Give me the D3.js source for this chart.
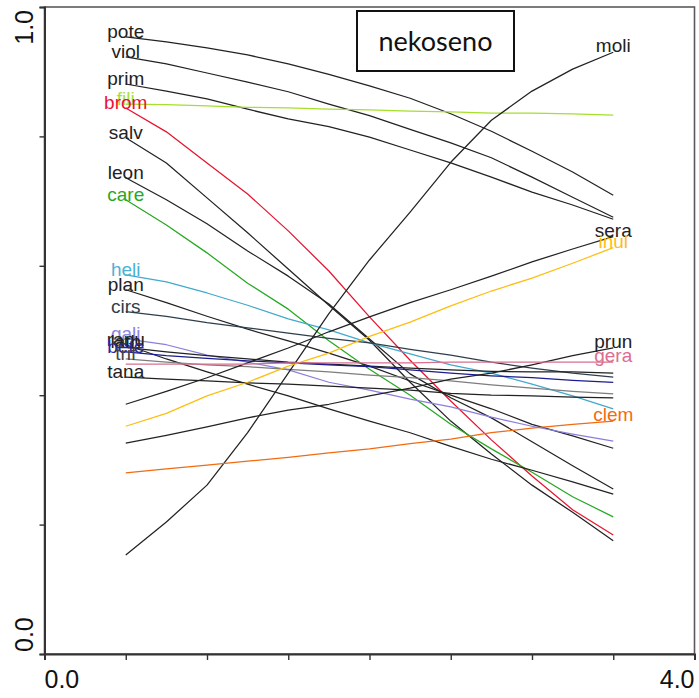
<!DOCTYPE html>
<html>
<head>
<meta charset="utf-8">
<script src="https://cdn.jsdelivr.net/npm/d3@7"></script>
<style>
  html, body { margin: 0; padding: 0; background: #fff; }
  svg { display: block; }
</style>
</head>
<body>
<svg id="chart" width="699" height="698"></svg>
<script>
// Sample positions along the gradient axis
const steps = [0.5, 0.75, 1.0, 1.25, 1.5, 1.75, 2.0, 2.25, 2.5, 2.75, 3.0, 3.25, 3.5];

// Fitted response of each species
const pote = [0.954, 0.946, 0.937, 0.926, 0.912, 0.896, 0.878, 0.859, 0.835, 0.808, 0.777, 0.745, 0.709];
const viol = [0.923, 0.912, 0.898, 0.884, 0.869, 0.850, 0.832, 0.811, 0.790, 0.767, 0.737, 0.706, 0.675];
const prim = [0.881, 0.870, 0.858, 0.842, 0.827, 0.815, 0.799, 0.779, 0.759, 0.737, 0.714, 0.694, 0.672];
const fili = [0.850, 0.849, 0.847, 0.845, 0.844, 0.842, 0.841, 0.839, 0.838, 0.836, 0.836, 0.835, 0.833];
const brom = [0.844, 0.807, 0.759, 0.711, 0.654, 0.592, 0.521, 0.454, 0.391, 0.331, 0.275, 0.223, 0.184];
const salv = [0.798, 0.759, 0.705, 0.651, 0.595, 0.539, 0.485, 0.420, 0.360, 0.309, 0.261, 0.219, 0.175];
const leon = [0.736, 0.702, 0.665, 0.623, 0.584, 0.541, 0.487, 0.433, 0.396, 0.365, 0.328, 0.291, 0.255];
const care = [0.702, 0.663, 0.620, 0.573, 0.533, 0.484, 0.440, 0.400, 0.355, 0.317, 0.281, 0.243, 0.212];
const heli = [0.586, 0.575, 0.558, 0.539, 0.518, 0.501, 0.481, 0.464, 0.447, 0.434, 0.417, 0.399, 0.379];
const plan = [0.563, 0.543, 0.522, 0.502, 0.484, 0.465, 0.445, 0.422, 0.400, 0.379, 0.355, 0.337, 0.318];
const cirs = [0.529, 0.522, 0.512, 0.504, 0.496, 0.488, 0.481, 0.471, 0.462, 0.451, 0.442, 0.434, 0.428];
const gali = [0.487, 0.478, 0.462, 0.451, 0.439, 0.420, 0.408, 0.394, 0.382, 0.366, 0.352, 0.340, 0.329];
const ranu = [0.478, 0.456, 0.436, 0.417, 0.399, 0.379, 0.360, 0.342, 0.321, 0.301, 0.284, 0.266, 0.247];
const lath = [0.474, 0.467, 0.461, 0.456, 0.451, 0.448, 0.445, 0.442, 0.439, 0.437, 0.436, 0.436, 0.434];
const bete = [0.467, 0.461, 0.457, 0.453, 0.450, 0.447, 0.444, 0.439, 0.434, 0.430, 0.427, 0.423, 0.420];
const trif = [0.456, 0.451, 0.447, 0.444, 0.440, 0.436, 0.431, 0.427, 0.422, 0.416, 0.411, 0.406, 0.402];
const tana = [0.428, 0.425, 0.422, 0.419, 0.417, 0.414, 0.411, 0.408, 0.403, 0.400, 0.399, 0.397, 0.396];
const moli = [0.153, 0.204, 0.261, 0.342, 0.434, 0.526, 0.609, 0.683, 0.760, 0.825, 0.870, 0.904, 0.930];
const sera = [0.386, 0.406, 0.427, 0.450, 0.473, 0.498, 0.521, 0.543, 0.563, 0.584, 0.606, 0.626, 0.645];
const inul = [0.352, 0.372, 0.399, 0.420, 0.445, 0.465, 0.491, 0.513, 0.538, 0.561, 0.581, 0.604, 0.628];
const prun = [0.326, 0.338, 0.351, 0.365, 0.377, 0.386, 0.399, 0.411, 0.425, 0.434, 0.447, 0.461, 0.473];
const gera = [0.448, 0.448, 0.448, 0.448, 0.450, 0.450, 0.450, 0.450, 0.451, 0.451, 0.451, 0.451, 0.451];
const clem = [0.280, 0.286, 0.292, 0.298, 0.304, 0.311, 0.317, 0.325, 0.332, 0.342, 0.349, 0.355, 0.360];

// Species labelled where they start (declining) and where they end (increasing)
const labelAtStart = ["pote", "viol", "prim", "fili", "brom", "salv", "leon", "care", "heli", "plan",
                      "cirs", "gali", "ranu", "lath", "bete", "trif", "tana"];
const labelAtEnd = ["moli", "sera", "inul", "prun", "gera", "clem"];

const xTicks = [0, 0.5, 1, 1.5, 2, 2.5, 3, 3.5, 4];
const yTicks = [0, 0.2, 0.4, 0.6, 0.8, 1.0];
const xTickLabels = ["0.0", "4.0"];
const yTickLabels = ["0.0", "1.0"];
const panelTitle = "nekoseno";

const responses = { pote, viol, prim, fili, brom, salv, leon, care, heli, plan, cirs, gali,
                    ranu, lath, bete, trif, tana, moli, sera, inul, prun, gera, clem };

const ink = "#222222";
const lineColor = {
  fili: "#a6df2c", brom: "#e8132f", care: "#27a822", heli: "#41a9cc",
  cirs: "#2e3e4c", gali: "#8a7fdc", bete: "#1c1c8e", trif: "#7d7d7d",
  inul: "#ffbd10", gera: "#d8708e", clem: "#f26a12"
};
const labelColor = {
  fili: "#a8e03a", brom: "#ec1038", care: "#27a822", heli: "#4ab2d4",
  cirs: "#2e3e4c", gali: "#8e84e0", bete: "#2626a4", trif: "#444444",
  inul: "#ffbd10", gera: "#dc6d8f", clem: "#f26a12"
};

const svg = d3.select("#chart");
const x = d3.scaleLinear().domain([0, 4]).range([44.5, 694.5]);
const y = d3.scaleLinear().domain([0, 1]).range([654, 7]);

// Frame around the plotting region
svg.append("rect")
  .attr("x", x(0)).attr("y", y(1))
  .attr("width", x(4) - x(0)).attr("height", y(0) - y(1))
  .attr("fill", "none").attr("stroke", "#5a5a5a").attr("stroke-width", 1.6);

// Bottom axis: ticks every 0.5, labels only at the ends
const gx = svg.append("g").attr("transform", `translate(0,${y(0)})`)
  .call(d3.axisBottom(x).tickValues(xTicks).tickSize(6).tickFormat(""));
gx.select(".domain").attr("stroke", "#333").attr("stroke-width", 2);
gx.selectAll(".tick line").attr("stroke", "#333").attr("stroke-width", 1.4);

// Left axis
const gy = svg.append("g").attr("transform", `translate(${x(0)},0)`)
  .call(d3.axisLeft(y).tickValues(yTicks).tickSize(5).tickFormat(""));
gy.select(".domain").attr("stroke", "#333").attr("stroke-width", 2);
gy.selectAll(".tick line").attr("stroke", "#333").attr("stroke-width", 1.4);

const tickFont = "'Liberation Sans', Arial, sans-serif";
svg.append("text").attr("x", x(0)).attr("y", 688)
  .attr("font-family", tickFont).attr("font-size", 25).attr("fill", "#111")
  .attr("text-anchor", "start").text(xTickLabels[0]);
svg.append("text").attr("x", x(4)).attr("y", 688)
  .attr("font-family", tickFont).attr("font-size", 25).attr("fill", "#111")
  .attr("text-anchor", "end").text(xTickLabels[1]);
svg.append("text").attr("transform", `translate(33,${y(0) - 2}) rotate(-90)`)
  .attr("font-family", tickFont).attr("font-size", 25).attr("fill", "#111")
  .attr("text-anchor", "start").text(yTickLabels[0]);
svg.append("text").attr("transform", `translate(33,${y(1) + 3}) rotate(-90)`)
  .attr("font-family", tickFont).attr("font-size", 25).attr("fill", "#111")
  .attr("text-anchor", "end").text(yTickLabels[1]);

// Response curves
const line = d3.line().x((d, i) => x(steps[i])).y(d => y(d));
const names = Object.keys(responses);
svg.append("g").selectAll("path").data(names).join("path")
  .attr("d", n => line(responses[n]))
  .attr("fill", "none")
  .attr("stroke", n => lineColor[n] || ink)
  .attr("stroke-width", 1.25)
  .attr("stroke-linejoin", "round");

// Species labels
const labelFont = "'Liberation Sans', Arial, sans-serif";
const lab = svg.append("g").attr("font-family", labelFont).attr("font-size", 19)
  .attr("text-anchor", "middle");
labelAtStart.forEach(n => {
  lab.append("text").attr("x", x(steps[0])).attr("y", y(responses[n][0]) + 1)
    .attr("fill", labelColor[n] || ink).text(n);
});
labelAtEnd.forEach(n => {
  const v = responses[n];
  lab.append("text").attr("x", x(steps[steps.length - 1])).attr("y", y(v[v.length - 1]))
    .attr("fill", labelColor[n] || ink).text(n);
});

// Panel title box
svg.append("rect").attr("x", 357).attr("y", 11).attr("width", 157).attr("height", 60)
  .attr("fill", "#fff").attr("stroke", "#111").attr("stroke-width", 2);
svg.append("text").attr("x", 435.5).attr("y", 51)
  .attr("font-family", "Lato, 'Open Sans', sans-serif").attr("font-size", 27)
  .attr("fill", "#111").attr("text-anchor", "middle").text(panelTitle);
</script>
</body>
</html>
